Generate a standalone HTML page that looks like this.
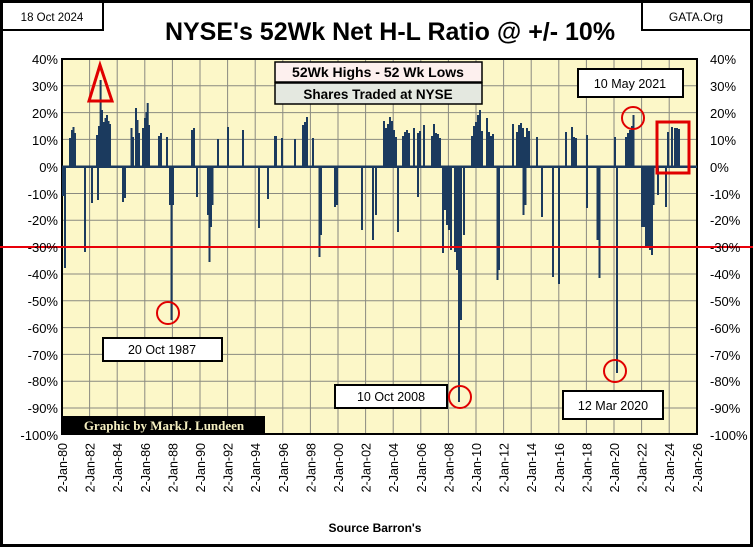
<!DOCTYPE html>
<html><head><meta charset="utf-8"><style>
body{margin:0;width:753px;height:547px;overflow:hidden;background:#fff;font-family:"Liberation Sans",sans-serif}
</style></head><body>
<svg width="753" height="547" viewBox="0 0 753 547" xmlns="http://www.w3.org/2000/svg" font-family="Liberation Sans, sans-serif">
<rect x="1.5" y="1.5" width="750" height="544" fill="#fff" stroke="#000" stroke-width="3"/>
<rect x="62" y="59" width="635" height="375" fill="#fcf7c8"/>
<g stroke="#8a8a80" stroke-width="1">
<line x1="62" y1="85.8" x2="697" y2="85.8"/><line x1="62" y1="112.6" x2="697" y2="112.6"/><line x1="62" y1="139.4" x2="697" y2="139.4"/>
<line x1="62" y1="193.5" x2="697" y2="193.5"/><line x1="62" y1="220.3" x2="697" y2="220.3"/><line x1="62" y1="274" x2="697" y2="274"/>
<line x1="62" y1="300.8" x2="697" y2="300.8"/><line x1="62" y1="327.6" x2="697" y2="327.6"/><line x1="62" y1="354.4" x2="697" y2="354.4"/>
<line x1="62" y1="381.2" x2="697" y2="381.2"/><line x1="62" y1="408" x2="697" y2="408"/>
<line x1="89.6" y1="59" x2="89.6" y2="434"/><line x1="117.2" y1="59" x2="117.2" y2="434"/><line x1="144.8" y1="59" x2="144.8" y2="434"/>
<line x1="172.4" y1="59" x2="172.4" y2="434"/><line x1="200" y1="59" x2="200" y2="434"/><line x1="227.6" y1="59" x2="227.6" y2="434"/>
<line x1="255.2" y1="59" x2="255.2" y2="434"/><line x1="282.8" y1="59" x2="282.8" y2="434"/><line x1="310.4" y1="59" x2="310.4" y2="434"/>
<line x1="338" y1="59" x2="338" y2="434"/><line x1="365.6" y1="59" x2="365.6" y2="434"/><line x1="393.2" y1="59" x2="393.2" y2="434"/>
<line x1="420.8" y1="59" x2="420.8" y2="434"/><line x1="448.4" y1="59" x2="448.4" y2="434"/><line x1="476" y1="59" x2="476" y2="434"/>
<line x1="503.6" y1="59" x2="503.6" y2="434"/><line x1="531.2" y1="59" x2="531.2" y2="434"/><line x1="558.8" y1="59" x2="558.8" y2="434"/>
<line x1="586.4" y1="59" x2="586.4" y2="434"/><line x1="614" y1="59" x2="614" y2="434"/><line x1="641.6" y1="59" x2="641.6" y2="434"/><line x1="669.2" y1="59" x2="669.2" y2="434"/>
</g>
<rect x="62" y="59" width="635" height="375" fill="none" stroke="#000" stroke-width="2"/>
<g stroke="#1b3a5e" stroke-width="2">
<line x1="62" y1="166.7" x2="697" y2="166.7" stroke-width="2.5"/>
<!-- positives 80s -->
<line x1="70" y1="167" x2="70" y2="138"/><line x1="72" y1="167" x2="72" y2="130"/><line x1="73.5" y1="167" x2="73.5" y2="127"/><line x1="75" y1="167" x2="75" y2="133"/>
<line x1="97" y1="167" x2="97" y2="135"/><line x1="99" y1="167" x2="99" y2="126"/><line x1="100.6" y1="167" x2="100.6" y2="80"/><line x1="102" y1="167" x2="102" y2="110"/>
<line x1="104" y1="167" x2="104" y2="122"/><line x1="105.5" y1="167" x2="105.5" y2="118"/><line x1="107" y1="167" x2="107" y2="115"/><line x1="108.5" y1="167" x2="108.5" y2="121"/><line x1="110" y1="167" x2="110" y2="124"/>
<line x1="131.5" y1="167" x2="131.5" y2="128"/><line x1="133" y1="167" x2="133" y2="137"/><line x1="136" y1="167" x2="136" y2="108"/><line x1="137.5" y1="167" x2="137.5" y2="120"/><line x1="139" y1="167" x2="139" y2="133"/>
<line x1="143" y1="167" x2="143" y2="128"/><line x1="145" y1="167" x2="145" y2="118"/><line x1="146.5" y1="167" x2="146.5" y2="112"/><line x1="147.7" y1="167" x2="147.7" y2="103"/><line x1="149" y1="167" x2="149" y2="125"/>
<line x1="159" y1="167" x2="159" y2="136"/><line x1="161" y1="167" x2="161" y2="133"/><line x1="167" y1="167" x2="167" y2="137"/>
<line x1="192" y1="167" x2="192" y2="130"/><line x1="194" y1="167" x2="194" y2="128"/><line x1="218" y1="167" x2="218" y2="139"/><line x1="228" y1="167" x2="228" y2="127"/><line x1="243" y1="167" x2="243" y2="130"/><line x1="276" y1="167" x2="276" y2="136"/>
<!-- negatives 80s -->
<line x1="63" y1="166" x2="63" y2="196"/><line x1="65" y1="166" x2="65" y2="268"/><line x1="85" y1="166" x2="85" y2="252"/><line x1="92" y1="166" x2="92" y2="203"/><line x1="98" y1="166" x2="98" y2="200"/>
<line x1="123" y1="166" x2="123" y2="202"/><line x1="125" y1="166" x2="125" y2="198"/><line x1="170" y1="166" x2="170" y2="205"/><line x1="171.5" y1="166" x2="171.5" y2="320"/><line x1="173" y1="166" x2="173" y2="205"/>
<line x1="197" y1="166" x2="197" y2="197"/><line x1="208" y1="166" x2="208" y2="215"/><line x1="209.5" y1="166" x2="209.5" y2="262"/><line x1="211" y1="166" x2="211" y2="227"/><line x1="212.5" y1="166" x2="212.5" y2="205"/>
<line x1="259" y1="166" x2="259" y2="228"/><line x1="268" y1="166" x2="268" y2="199"/>
<!-- 90s-2000s -->
<line x1="275" y1="167" x2="275" y2="136"/><line x1="282" y1="167" x2="282" y2="138"/><line x1="295" y1="167" x2="295" y2="139"/>
<line x1="303" y1="167" x2="303" y2="125"/><line x1="305" y1="167" x2="305" y2="122"/><line x1="307" y1="167" x2="307" y2="117"/><line x1="313" y1="167" x2="313" y2="138"/>
<line x1="384" y1="167" x2="384" y2="121"/><line x1="386" y1="167" x2="386" y2="128"/><line x1="388" y1="167" x2="388" y2="124"/><line x1="390" y1="167" x2="390" y2="117"/><line x1="392" y1="167" x2="392" y2="121"/><line x1="394" y1="167" x2="394" y2="130"/><line x1="396" y1="167" x2="396" y2="137"/>
<line x1="403" y1="167" x2="403" y2="136"/><line x1="405" y1="167" x2="405" y2="132"/><line x1="407" y1="167" x2="407" y2="130"/><line x1="409" y1="167" x2="409" y2="133"/><line x1="414" y1="167" x2="414" y2="128"/>
<line x1="418" y1="167" x2="418" y2="133"/><line x1="420" y1="167" x2="420" y2="131"/><line x1="424" y1="167" x2="424" y2="125"/>
<line x1="432" y1="167" x2="432" y2="136"/><line x1="434" y1="167" x2="434" y2="124"/><line x1="436" y1="167" x2="436" y2="133"/><line x1="438" y1="167" x2="438" y2="134"/><line x1="440" y1="167" x2="440" y2="138"/>
<line x1="472" y1="167" x2="472" y2="136"/><line x1="474" y1="167" x2="474" y2="126"/><line x1="476" y1="167" x2="476" y2="122"/><line x1="478" y1="167" x2="478" y2="115"/><line x1="480" y1="167" x2="480" y2="110"/><line x1="482" y1="167" x2="482" y2="131"/>
<line x1="319.5" y1="166" x2="319.5" y2="257"/><line x1="321" y1="166" x2="321" y2="235"/><line x1="335" y1="166" x2="335" y2="207"/><line x1="337" y1="166" x2="337" y2="205"/>
<line x1="362" y1="166" x2="362" y2="230"/><line x1="373" y1="166" x2="373" y2="240"/><line x1="376" y1="166" x2="376" y2="215"/><line x1="398" y1="166" x2="398" y2="232"/><line x1="418" y1="166" x2="418" y2="197"/>
<line x1="443" y1="166" x2="443" y2="253"/><line x1="445" y1="166" x2="445" y2="210"/><line x1="447" y1="166" x2="447" y2="225"/><line x1="449" y1="166" x2="449" y2="230"/><line x1="451" y1="166" x2="451" y2="250"/>
<line x1="455" y1="166" x2="455" y2="252"/><line x1="457" y1="166" x2="457" y2="270"/><line x1="459" y1="166" x2="459" y2="402"/><line x1="461" y1="166" x2="461" y2="320"/><line x1="464" y1="166" x2="464" y2="235"/>
<!-- 2010s-2020s -->
<line x1="487" y1="167" x2="487" y2="118"/><line x1="489" y1="167" x2="489" y2="132"/><line x1="491" y1="167" x2="491" y2="136"/><line x1="493" y1="167" x2="493" y2="134"/>
<line x1="513" y1="167" x2="513" y2="124"/><line x1="517" y1="167" x2="517" y2="132"/><line x1="519" y1="167" x2="519" y2="125"/><line x1="521" y1="167" x2="521" y2="123"/><line x1="523" y1="167" x2="523" y2="128"/><line x1="525" y1="167" x2="525" y2="137"/><line x1="527" y1="167" x2="527" y2="128"/><line x1="529" y1="167" x2="529" y2="131"/>
<line x1="537" y1="167" x2="537" y2="137"/><line x1="566" y1="167" x2="566" y2="132"/><line x1="572" y1="167" x2="572" y2="127"/><line x1="574" y1="167" x2="574" y2="137"/><line x1="576" y1="167" x2="576" y2="138"/><line x1="587" y1="167" x2="587" y2="135"/><line x1="615" y1="167" x2="615" y2="137"/>
<line x1="626" y1="167" x2="626" y2="137"/><line x1="628" y1="167" x2="628" y2="133"/><line x1="630" y1="167" x2="630" y2="130"/><line x1="632" y1="167" x2="632" y2="126"/><line x1="633.5" y1="167" x2="633.5" y2="115"/>
<line x1="668" y1="167" x2="668" y2="132"/><line x1="672" y1="167" x2="672" y2="127"/><line x1="675" y1="167" x2="675" y2="128"/><line x1="677" y1="167" x2="677" y2="128"/><line x1="679" y1="167" x2="679" y2="129"/>
<line x1="497.5" y1="166" x2="497.5" y2="280"/><line x1="499" y1="166" x2="499" y2="270"/><line x1="523.5" y1="166" x2="523.5" y2="215"/><line x1="525.5" y1="166" x2="525.5" y2="205"/><line x1="542" y1="166" x2="542" y2="217"/>
<line x1="553" y1="166" x2="553" y2="277"/><line x1="559" y1="166" x2="559" y2="284"/><line x1="587" y1="166" x2="587" y2="208"/><line x1="597.5" y1="166" x2="597.5" y2="240"/><line x1="599.5" y1="166" x2="599.5" y2="278"/>
<line x1="617" y1="166" x2="617" y2="373"/>
<line x1="642" y1="166" x2="642" y2="227"/><line x1="644" y1="166" x2="644" y2="227"/><line x1="646" y1="166" x2="646" y2="248"/><line x1="648" y1="166" x2="648" y2="248"/><line x1="650" y1="166" x2="650" y2="250"/><line x1="652" y1="166" x2="652" y2="255"/><line x1="653.5" y1="166" x2="653.5" y2="205"/>
<line x1="658" y1="166" x2="658" y2="195"/><line x1="666" y1="166" x2="666" y2="207"/>
</g>
<line x1="0" y1="247" x2="753" y2="247" stroke="#e8000a" stroke-width="2"/>
<g fill="none" stroke="#e00000" stroke-width="2">
<polygon points="100,65 89,101 112,101" stroke-width="3"/>
<circle cx="168" cy="313" r="11"/><circle cx="460" cy="397" r="11"/><circle cx="615" cy="371" r="11"/><circle cx="633" cy="118" r="11"/>
<rect x="657" y="122" width="32" height="51" stroke-width="3"/>
</g>
<g font-size="13" fill="#000">
<text x="58" y="64" text-anchor="end">40%</text><text x="58" y="91" text-anchor="end">30%</text><text x="58" y="118" text-anchor="end">20%</text>
<text x="58" y="145" text-anchor="end">10%</text><text x="58" y="172" text-anchor="end">0%</text><text x="58" y="199" text-anchor="end">-10%</text>
<text x="58" y="225" text-anchor="end">-20%</text><text x="58" y="252" text-anchor="end">-30%</text><text x="58" y="279" text-anchor="end">-40%</text>
<text x="58" y="306" text-anchor="end">-50%</text><text x="58" y="333" text-anchor="end">-60%</text><text x="58" y="360" text-anchor="end">-70%</text>
<text x="58" y="386" text-anchor="end">-80%</text><text x="58" y="413" text-anchor="end">-90%</text><text x="58" y="440" text-anchor="end">-100%</text>
<text x="710" y="64">40%</text><text x="710" y="91">30%</text><text x="710" y="118">20%</text><text x="710" y="145">10%</text><text x="710" y="172">0%</text>
<text x="710" y="199">-10%</text><text x="710" y="225">-20%</text><text x="710" y="252">-30%</text><text x="710" y="279">-40%</text><text x="710" y="306">-50%</text>
<text x="710" y="333">-60%</text><text x="710" y="360">-70%</text><text x="710" y="386">-80%</text><text x="710" y="413">-90%</text><text x="710" y="440">-100%</text>
</g>
<g font-size="12.5" fill="#000" text-anchor="end">
<text transform="translate(67,443) rotate(-90)">2-Jan-80</text><text transform="translate(94.6,443) rotate(-90)">2-Jan-82</text>
<text transform="translate(122.2,443) rotate(-90)">2-Jan-84</text><text transform="translate(149.8,443) rotate(-90)">2-Jan-86</text>
<text transform="translate(177.4,443) rotate(-90)">2-Jan-88</text><text transform="translate(205,443) rotate(-90)">2-Jan-90</text>
<text transform="translate(232.6,443) rotate(-90)">2-Jan-92</text><text transform="translate(260.2,443) rotate(-90)">2-Jan-94</text>
<text transform="translate(287.8,443) rotate(-90)">2-Jan-96</text><text transform="translate(315.4,443) rotate(-90)">2-Jan-98</text>
<text transform="translate(343,443) rotate(-90)">2-Jan-00</text><text transform="translate(370.6,443) rotate(-90)">2-Jan-02</text>
<text transform="translate(398.2,443) rotate(-90)">2-Jan-04</text><text transform="translate(425.8,443) rotate(-90)">2-Jan-06</text>
<text transform="translate(453.4,443) rotate(-90)">2-Jan-08</text><text transform="translate(481,443) rotate(-90)">2-Jan-10</text>
<text transform="translate(508.6,443) rotate(-90)">2-Jan-12</text><text transform="translate(536.2,443) rotate(-90)">2-Jan-14</text>
<text transform="translate(563.8,443) rotate(-90)">2-Jan-16</text><text transform="translate(591.4,443) rotate(-90)">2-Jan-18</text>
<text transform="translate(619,443) rotate(-90)">2-Jan-20</text><text transform="translate(646.6,443) rotate(-90)">2-Jan-22</text>
<text transform="translate(674.2,443) rotate(-90)">2-Jan-24</text><text transform="translate(701.8,443) rotate(-90)">2-Jan-26</text>
</g>
<text x="375" y="532" font-size="12" font-weight="bold" text-anchor="middle">Source Barron's</text>
<text x="390" y="40" font-size="25" font-weight="bold" text-anchor="middle">NYSE's 52Wk Net H-L Ratio @ +/- 10%</text>
<rect x="2" y="2" width="101" height="28" fill="#fff" stroke="#000" stroke-width="2"/>
<text x="52" y="21" font-size="11.5" text-anchor="middle">18 Oct 2024</text>
<rect x="642" y="2" width="109" height="28" fill="#fff" stroke="#000" stroke-width="2"/>
<text x="696" y="21" font-size="12" text-anchor="middle">GATA.Org</text>
<rect x="275" y="62" width="207" height="20" fill="#fdf0ee" stroke="#000" stroke-width="1.5"/>
<text x="378" y="77" font-size="14" font-weight="bold" text-anchor="middle">52Wk Highs - 52 Wk Lows</text>
<rect x="275" y="83" width="207" height="21" fill="#e4e8e0" stroke="#000" stroke-width="1.5"/>
<text x="378" y="99" font-size="13.5" font-weight="bold" text-anchor="middle">Shares Traded at NYSE</text>
<g fill="#fff" stroke="#000" stroke-width="2">
<rect x="103" y="338" width="119" height="23"/><rect x="335" y="385" width="112" height="23"/>
<rect x="563" y="391" width="100" height="28"/><rect x="578" y="69" width="105" height="28"/>
</g>
<g font-size="12.5" text-anchor="middle">
<text x="162" y="354">20 Oct 1987</text><text x="391" y="401">10 Oct 2008</text>
<text x="613" y="410">12 Mar 2020</text><text x="630" y="88">10 May 2021</text>
</g>
<rect x="63" y="416" width="202" height="18" fill="#000"/>
<text x="164" y="430" font-size="13" font-weight="bold" fill="#f4eec0" text-anchor="middle" font-family="Liberation Serif, serif">Graphic by MarkJ. Lundeen</text>
</svg>
</body></html>
